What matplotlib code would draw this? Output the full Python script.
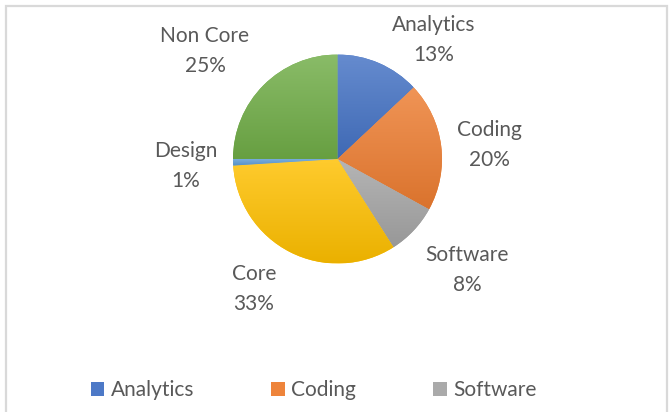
import matplotlib
matplotlib.use('Agg')
import matplotlib.pyplot as plt
import numpy as np
from matplotlib.colors import to_rgb, LinearSegmentedColormap
from matplotlib.patches import Rectangle

# ==================================== data ====================================
categories = ['Analytics', 'Coding', 'Software', 'Core', 'Design', 'Non Core']
shares = [13, 20, 8, 33, 1, 25]
base_colors = ['#4472C4', '#ED7D31', '#A5A5A5', '#FFC000', '#5B9BD5', '#70AD47']
legend_items = ['Analytics', 'Coding', 'Software']

# label centres in figure pixels (x, y from top)
label_pos = [(434, 40), (489, 145), (467, 270), (254, 289), (186, 166), (205, 51)]

W, H = 670, 412
plt.rcParams['font.family'] = ['Lato', 'DejaVu Sans']
text_color = '#595959'
fs = 15

fig = plt.figure(figsize=(W / 100, H / 100), dpi=100)
fig.patch.set_facecolor('white')

# chart area border (bottom edge falls outside the image)
fig.add_artist(Rectangle((6 / W, -0.05), 661 / W, (H - 6) / H + 0.05,
                         transform=fig.transFigure, fill=False,
                         edgecolor='#d9d9d9', linewidth=1.6))

# ==================================== pie ====================================
cx, cy, r = 337.5, H - 159, 104.5
ax = fig.add_axes([(cx - r) / W, (cy - r) / H, 2 * r / W, 2 * r / H])
wedges, _ = ax.pie(shares, colors=base_colors, startangle=90, counterclock=False,
                   wedgeprops=dict(linewidth=0))


def shade(c, f):
    c = np.array(to_rgb(c))
    if f >= 0:
        return tuple(c + (1 - c) * f)
    return tuple(c * (1 + f))


# vertical gradient inside each slice, lighter at the top
for w, c in zip(wedges, base_colors):
    ext = w.get_path().get_extents(w.get_patch_transform())
    cmap = LinearSegmentedColormap.from_list('g', [shade(c, -0.08), shade(c, 0.18)])
    grad = np.linspace(0, 1, 256).reshape(-1, 1)
    im = ax.imshow(grad, cmap=cmap, origin='lower', aspect='auto',
                   extent=(ext.x0, ext.x1, ext.y0, ext.y1), zorder=w.get_zorder() + 0.1)
    im.set_clip_path(w)

ax.set_xlim(-1, 1)
ax.set_ylim(-1, 1)
ax.set_aspect('auto')
ax.axis('off')

# ==================================== labels ====================================
for name, v, (x, y) in zip(categories, shares, label_pos):
    fig.text(x / W, 1 - y / H, f'{name}\n{v}%', ha='center', va='center',
             fontsize=fs, color=text_color, linespacing=1.6)

# ==================================== legend ====================================
handles = [Rectangle((0, 0), 1, 1, facecolor=shade(c, 0.05), edgecolor='none')
           for c in base_colors[:len(legend_items)]]
fig.legend(handles, legend_items, loc='center', bbox_to_anchor=(0.468, 1 - 390 / H),
           ncol=3, frameon=False, fontsize=fs, labelcolor=text_color,
           handlelength=0.65, handleheight=0.65, handletextpad=0.3,
           columnspacing=3.7)

fig.savefig('out.png', dpi=100)
